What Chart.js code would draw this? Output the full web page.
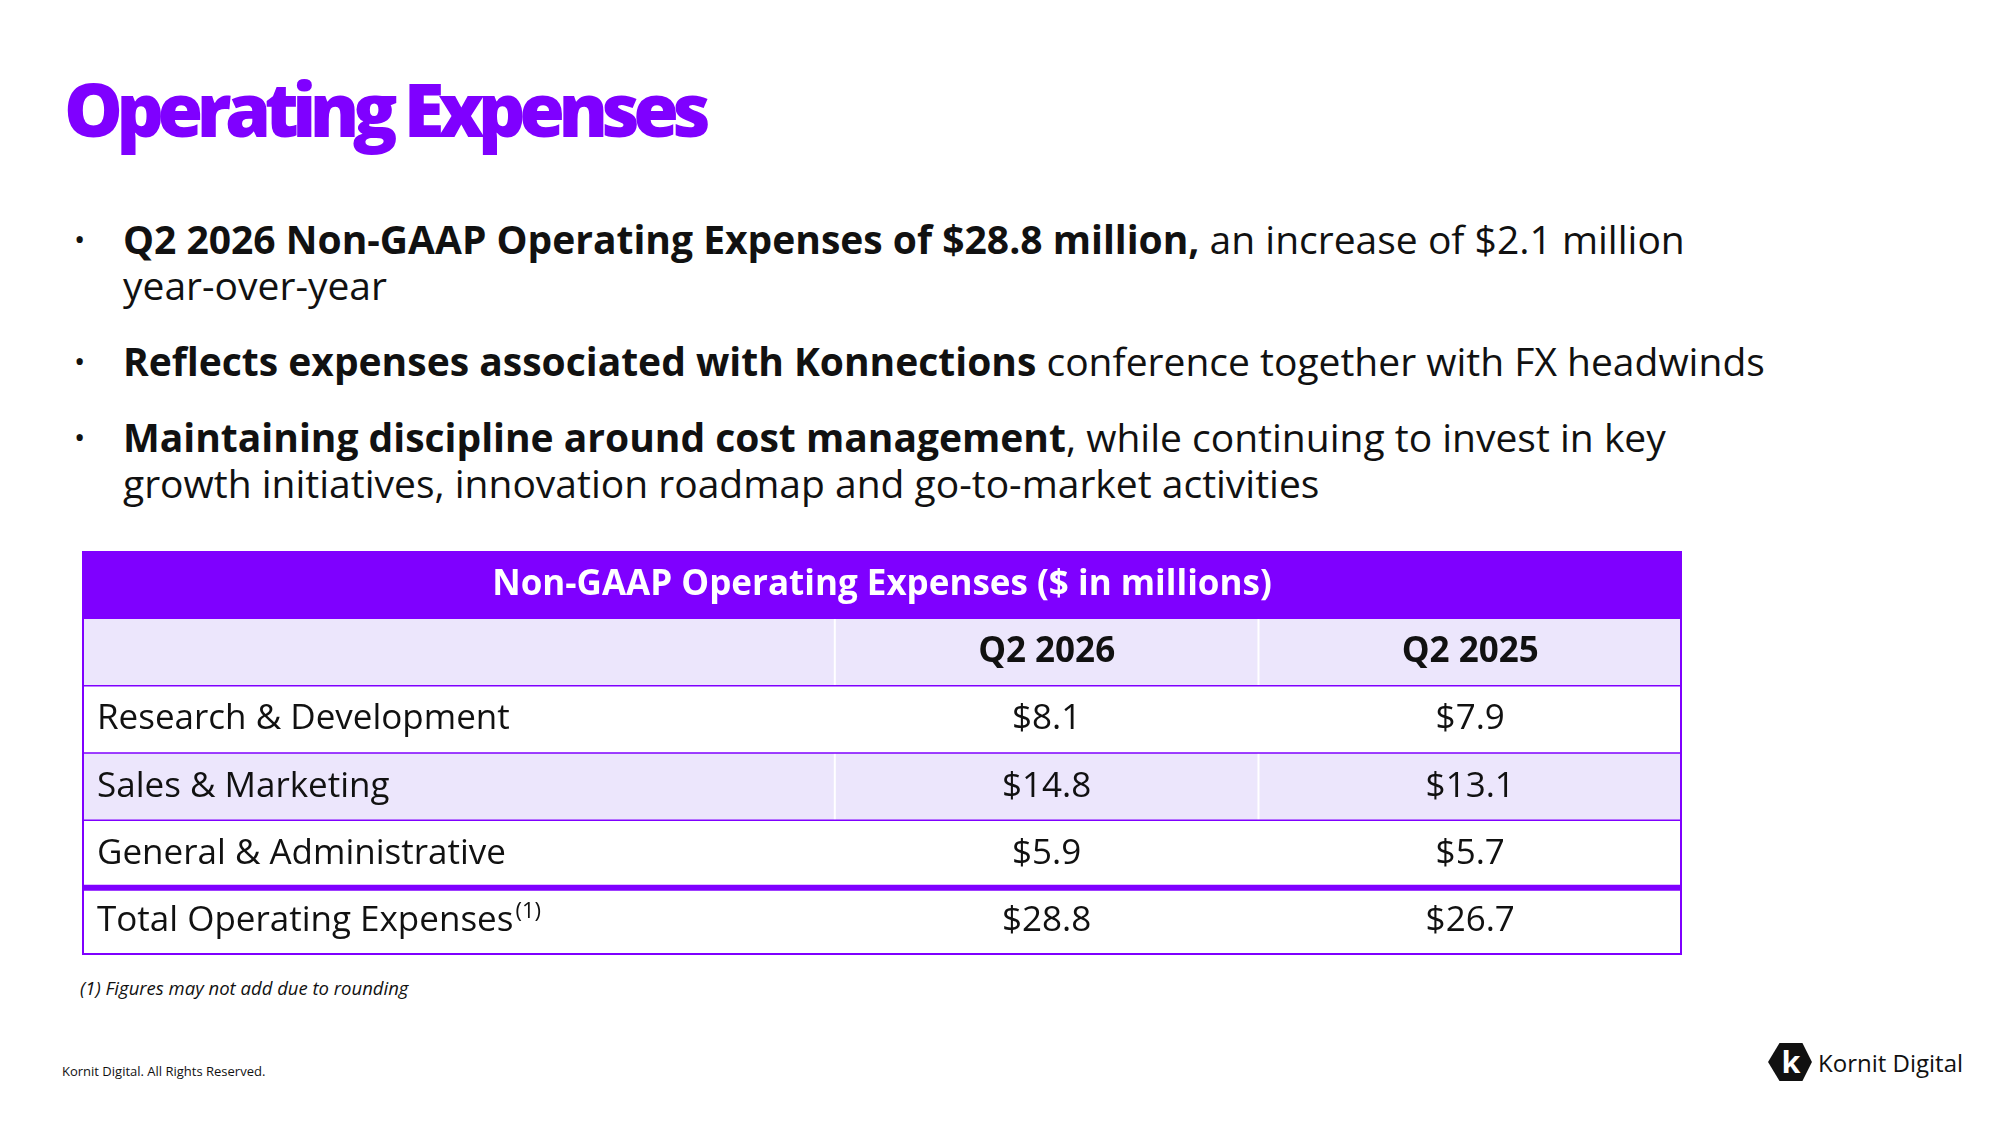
<!DOCTYPE html>
<html><head><meta charset="utf-8">
<script src="https://cdn.jsdelivr.net/npm/chart.js@4"></script>
<style>
  body{margin:0;width:2000px;height:1125px;background:#fff;font-family:"Open Sans",sans-serif;position:relative;overflow:hidden;color:#111}
  h1{position:absolute;left:64px;top:58px;margin:0;font-size:74px;font-weight:800;letter-spacing:-6.5px;color:#7F00FF}
  ul{position:absolute;left:74px;top:216px;margin:0;padding:0;list-style:none;font-size:39px;line-height:46px;width:1880px}
  li{position:relative;padding-left:49px;margin-bottom:30px}
  li:before{content:"•";position:absolute;left:0;top:0;font-size:30px}
  b{font-weight:700}
  #wrap{position:absolute;left:82px;top:551px;width:1600px;height:404px}
  .note{position:absolute;left:80px;top:975px;font-size:18.5px;font-style:italic}
  .foot{position:absolute;left:62px;top:1062px;font-size:13px}
  .logo{position:absolute;left:1768px;top:1041px;display:flex;align-items:center;font-size:24px}
</style></head><body>
<h1>Operating Expenses</h1>
<ul>
  <li><b>Q2 2026 Non-GAAP Operating Expenses of $28.8 million,</b> an increase of $2.1 million<br>year-over-year</li>
  <li><b>Reflects expenses associated with Konnections</b> conference together with FX headwinds</li>
  <li><b>Maintaining discipline around cost management</b>, while continuing to invest in key<br>growth initiatives, innovation roadmap and go-to-market activities</li>
</ul>
<div id="wrap"><canvas id="c" width="1600" height="404"></canvas></div>
<div class="note">(1) Figures may not add due to rounding</div>
<div class="foot">Kornit Digital. All Rights Reserved.</div>
<div class="logo"><svg width="44" height="42" viewBox="0 0 46 44"><polygon points="12,2 36,2 46,22 36,42 12,42 0,22" fill="#111"/><text x="14" y="34" fill="#fff" font-size="32" font-weight="700" font-family="Open Sans">k</text></svg><span style="margin-left:6px">Kornit Digital</span></div>
<script>
const tableTitle = 'Non-GAAP Operating Expenses ($ in millions)';
const periods = ['Q2 2026', 'Q2 2025'];
const categories = ['Research & Development', 'Sales & Marketing', 'General & Administrative', 'Total Operating Expenses'];
const q2_2026 = ['$8.1', '$14.8', '$5.9', '$28.8'];
const q2_2025 = ['$7.9', '$13.1', '$5.7', '$26.7'];

const rows = ['title', 'periods', ...categories];
const colEdges = [0, 0.4705, 0.7353, 1]; // column split as fraction of width
const PURPLE = '#7F00FF', LAV = '#ECE6FC';

const tablePlugin = {
  id: 'table',
  afterDraw(chart) {
    const c = chart.ctx, x = chart.scales.x, y = chart.scales.y;
    const L = x.getPixelForValue(0), R = x.getPixelForValue(1);
    const band = y.getPixelForValue(1) - y.getPixelForValue(0);
    const top = i => y.getPixelForValue(i) - band / 2;
    const cx = i => (x.getPixelForValue(colEdges[i]) + x.getPixelForValue(colEdges[i + 1])) / 2;
    c.save();
    rows.forEach((r, i) => {
      const t = top(i);
      c.fillStyle = i === 0 ? PURPLE : (i === 1 || i === 3) ? LAV : '#fff';
      c.fillRect(L, t, R - L, band);
      if (i === 1 || i === 3) {
        c.strokeStyle = '#fff'; c.lineWidth = 2;
        [1, 2].forEach(k => { const px = x.getPixelForValue(colEdges[k]); c.beginPath(); c.moveTo(px, t); c.lineTo(px, t + band); c.stroke(); });
      }
      c.textBaseline = 'middle';
      if (i === 0) {
        c.fillStyle = '#fff'; c.font = '700 35px "Open Sans"'; c.textAlign = 'center';
        c.fillText(tableTitle, (L + R) / 2, t + band / 2);
      } else if (i === 1) {
        c.fillStyle = '#111'; c.font = '700 35px "Open Sans"'; c.textAlign = 'center';
        periods.forEach((p, k) => c.fillText(p, cx(k + 1), t + band / 2));
      } else {
        const j = i - 2;
        c.fillStyle = '#111'; c.font = '35px "Open Sans"'; c.textAlign = 'left';
        c.fillText(categories[j], L + 15, t + band / 2);
        if (j === 3) { const w = c.measureText(categories[j]).width; c.font = '22px "Open Sans"'; c.fillText('(1)', L + 17 + w, t + band / 2 - 10); c.font = '35px "Open Sans"'; }
        c.textAlign = 'center';
        c.fillText(q2_2026[j], cx(1), t + band / 2);
        c.fillText(q2_2025[j], cx(2), t + band / 2);
      }
      if (i >= 1) {
        c.strokeStyle = PURPLE; c.lineWidth = i === 5 ? 6 : 1.5;
        c.beginPath(); c.moveTo(L, t); c.lineTo(R, t); c.stroke();
      }
    });
    c.strokeStyle = PURPLE; c.lineWidth = 2;
    c.strokeRect(L + 1, top(0) + 1, R - L - 2, top(rows.length) - top(0) - 2);
    c.restore();
  }
};

new Chart(document.getElementById('c'), {
  type: 'bar',
  data: { labels: rows, datasets: [{ data: [] }] },
  options: {
    responsive: false, animation: false, devicePixelRatio: 1,
    layout: { padding: 0 },
    plugins: { legend: { display: false }, tooltip: { enabled: false } },
    scales: {
      x: { type: 'linear', min: 0, max: 1, display: false, offset: false },
      y: { type: 'category', display: false, offset: true }
    }
  },
  plugins: [tablePlugin]
});
</script>
</body></html>
